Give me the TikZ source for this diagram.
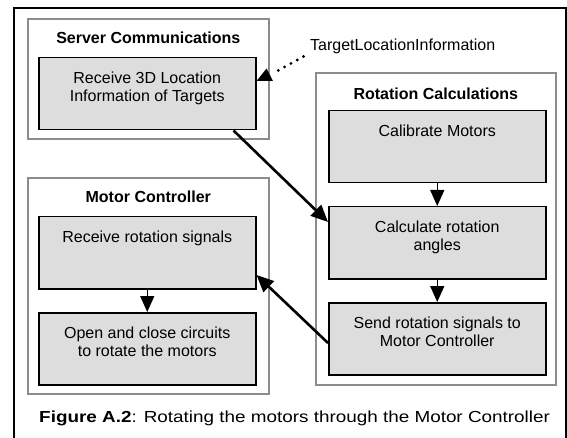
\documentclass[tikz,border=0pt]{standalone}
\usepackage{fontspec}
\setmainfont{Liberation Sans}
\usetikzlibrary{arrows.meta,calc}
\definecolor{boxfill}{HTML}{DDDDDD}
\definecolor{groupline}{HTML}{8C8C8C}
\begin{document}
\begin{tikzpicture}[x=1pt,y=-1pt,
  font=\fontsize{16}{18}\selectfont,
  group/.style={draw=groupline, line width=1.6pt, anchor=north west, inner sep=0pt},
  stepbox/.style={draw=black, fill=boxfill, line width=1.5pt, anchor=north west,
    minimum width=217pt, minimum height=72pt, inner sep=0pt},
  boxtext/.style={anchor=north, align=center, inner sep=0pt},
  grouptitle/.style={anchor=base, inner sep=0pt, font=\fontsize{16}{18}\selectfont\bfseries},
  flow/.style={line width=2.6pt, -{Triangle[length=17pt,width=15pt]}},
  seq/.style={line width=1.4pt, -{Triangle[length=16pt,width=14pt]}},
  feed/.style={line width=3.2pt, line cap=round, dash pattern=on 0pt off 7.2pt}]
\useasboundingbox (0,0) rectangle (567,438);

% outer frame (open at the bottom edge)
\draw[line width=1.6pt] (14,438) -- (14,8) -- (566,8) -- (566,438);

% group containers
\node[group, minimum width=241pt, minimum height=120pt] (srv) at (27,18) {};
\node[group, minimum width=241pt, minimum height=216pt] (mc) at (27,177) {};
\node[group, minimum width=240pt, minimum height=312pt] (rc) at (315,72) {};

\node[grouptitle] at ([yshift=-25.5pt]srv.north) {Server Communications};
\node[grouptitle] at ([yshift=-25.5pt]mc.north) {Motor Controller};
\node[grouptitle] at ([yshift=-27.5pt]rc.north) {Rotation Calculations};

% process boxes
\node[stepbox] (rx) at (38,57) {};
\node[stepbox] (cal) at (328,110) {};
\node[stepbox] (calc) at (328,206) {};
\node[stepbox] (send) at (328,302) {};
\node[stepbox] (rrs) at (38,216) {};
\node[stepbox] (occ) at (38,312) {};

\node[boxtext] (rxt) at ([yshift=-15pt]rx.north) {Receive 3D Location\\Information of Targets};
\node[boxtext] (calt) at ([yshift=-15pt]cal.north) {Calibrate Motors};
\node[boxtext] (calct) at ([yshift=-15pt]calc.north) {Calculate rotation\\angles};
\node[boxtext] (sendt) at ([yshift=-15pt]send.north) {Send rotation signals to\\Motor Controller};
\node[boxtext] (rrst) at ([yshift=-15pt]rrs.north) {Receive rotation signals};
\node[boxtext] (occt) at ([yshift=-15pt]occ.north) {Open and close circuits\\to rotate the motors};

% incoming data: dotted line ending in a solid triangular head
\node[anchor=base west, inner sep=0pt] (tli) at (310,50.5) {TargetLocationInformation};
\coordinate (tlistart) at (303.5,56.5);
\coordinate (tliend) at ([yshift=-24pt]rx.north east);
\coordinate (tlihead) at ([xshift=10pt,yshift=12.5pt]tliend);
\draw[feed] (tlistart) -- ([xshift=19pt,yshift=9pt]tliend);
\fill (tliend) -- ([xshift=16.5pt]tliend) -- (tlihead) -- cycle;

% connectors
\draw[seq] (cal.south) -- (calc.north);
\draw[seq] (calc.south) -- (send.north);
\draw[seq] (rrs.south) -- (occ.north);
\draw[flow] ([xshift=-23pt]rx.south east) -- ([yshift=-16pt]calc.north west);
\draw[flow] ([yshift=-41pt]send.north west) -- ([yshift=-59pt]rrs.north east);

% caption, set slightly wide
\node[anchor=base west, inner sep=0pt, xscale=1.18] (cap) at (39,422.5)
  {\textbf{Figure A.2}: Rotating the motors through the Motor Controller};
\end{tikzpicture}
\end{document}
